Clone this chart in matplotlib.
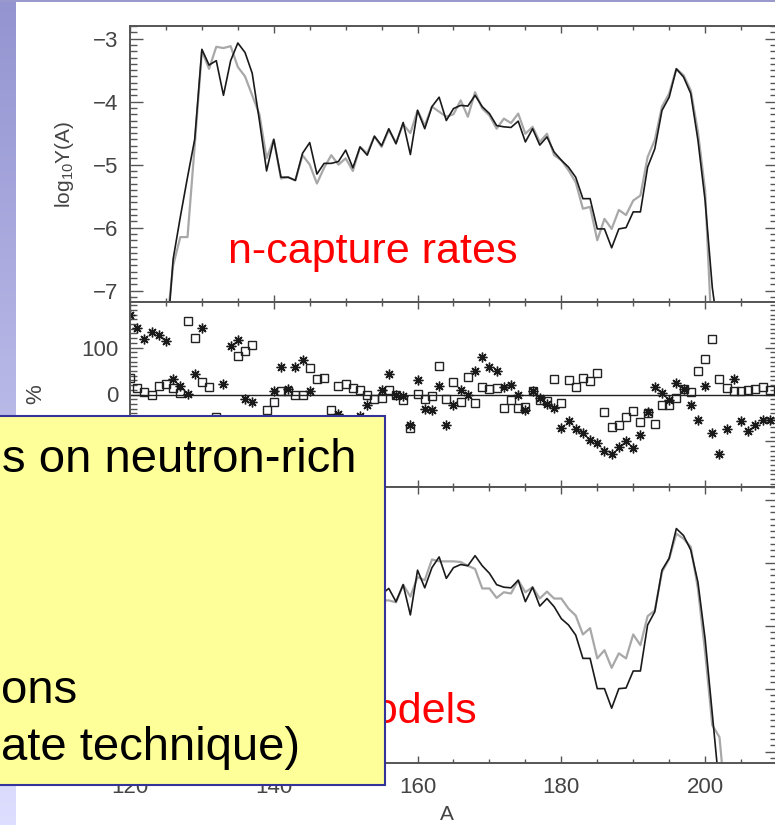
import numpy as np
import matplotlib.pyplot as plt
from matplotlib.patches import Rectangle
from matplotlib.ticker import MultipleLocator

plt.rcParams['font.family'] = ['Liberation Sans', 'DejaVu Sans']
plt.rcParams['mathtext.fontset'] = 'custom'
plt.rcParams['mathtext.rm'] = 'Liberation Sans'
plt.rcParams['mathtext.it'] = 'Liberation Sans:italic'

nan = np.nan

# ---- data: log10 Y(A), top panel (n-capture rates), A = 124 ... 203
top_start = 124
top_black = [-8.5, -8.0, -6.5, -5.83, -5.2, -4.6, -3.17, -3.42, -3.35, -3.9,
             -3.35, -3.07, -3.22, -3.55, -4.3, -5.1, -4.6, -5.2, -5.2, -5.25,
             -4.82, -4.65, -5.15, -4.98, -4.98, -4.95, -4.77, -5.05, -4.72, -4.85,
             -4.55, -4.70, -4.43, -4.67, -4.33, -4.84, -4.14, -4.43, -4.08, -3.93,
             -4.3, -4.11, -4.06, -4.07, -3.9, -4.08, -4.19, -4.38, -4.4, -4.41,
             -4.31, -4.64, -4.43, -4.69, -4.56, -4.8, -4.93, -5.04, -5.2, -5.54,
             -5.54, -6.02, -6.02, -6.32, -6.02, -6.0, -5.75, -5.75, -5.04, -4.75,
             -4.14, -3.93, -3.48, -3.61, -3.87, -4.61, -5.57, -6.95, -7.8, -8.5]
top_gray = [-8.5, -7.7, -6.6, -6.15, -6.15, -4.7, -3.2, -3.48, -3.13, -3.15,
            -3.12, -3.45, -3.6, -3.9, -4.2, -4.9, -4.6, -5.22, -5.2, -5.25,
            -4.85, -5.0, -5.3, -5.05, -4.85, -5.0, -4.9, -5.1, -4.72, -4.82,
            -4.55, -4.72, -4.45, -4.65, -4.36, -4.5, -4.14, -4.38, -4.08, -4.16,
            -4.24, -4.2, -3.98, -4.24, -3.85, -4.11, -4.22, -4.43, -4.27, -4.34,
            -4.19, -4.51, -4.4, -4.64, -4.51, -4.85, -4.93, -5.09, -5.28, -5.7,
            -5.67, -6.2, -5.86, -6.02, -5.72, -5.8, -5.57, -5.49, -4.88, -4.61,
            -4.08, -3.87, -3.48, -3.58, -3.82, -4.48, -5.41, -7.9, -8.5, -8.5]

# ---- bottom panel (mass models), visible part A = 155 ... 203
bot_start = 155
bot_black = [-4.5, -4.41, -4.62, -4.35, -4.83, -4.12, -4.4, -4.08, -3.91, -4.25,
             -4.08, -4.03, -4.05, -3.89, -4.05, -4.17, -4.35, -4.39, -4.4, -4.28,
             -4.62, -4.39, -4.69, -4.57, -4.7, -4.89, -4.99, -5.15, -5.52, -5.52,
             -6.0, -6.0, -6.31, -6.0, -5.99, -5.72, -5.72, -4.99, -4.78, -4.12,
             -3.93, -3.46, -3.57, -3.8, -4.31, -5.21, -6.4, -7.6, -8.5]
bot_gray = [-4.6, -4.6, -4.63, -4.35, -4.54, -4.23, -4.28, -3.95, -3.98, -3.98,
            -3.98, -3.99, -4.05, -4.1, -4.41, -4.41, -4.56, -4.47, -4.49, -4.28,
            -4.47, -4.39, -4.57, -4.46, -4.57, -4.57, -4.73, -4.84, -5.14, -5.04,
            -5.52, -5.39, -5.67, -5.44, -5.52, -5.14, -5.31, -4.85, -4.76, -4.15,
            -3.94, -3.54, -3.62, -3.75, -4.41, -5.42, -6.58, -6.77, -8.0]

# ---- middle panel: % differences, A = 120 ... 209
mid_start = 120
mid_squares = [35, 14, 5, -2, 19, 22, 13, 3, 156, 121,
               26, 16, -48, nan, nan, 83, 92, 106, nan, -33,
               -17, 8, 8, -2, -2, 56, 33, 36, -33, 19,
               23, 13, 9, 0, -10, -7, 9, -2, -12, -71,
               1, -10, -4, 60, -10, 26, -15, 38, -18, 17,
               11, 14, -29, -11, -29, -27, 7, -12, -14, 32,
               -18, 30, 17, 35, 28, 46, -38, -69, -66, -47,
               -35, -59, -39, -62, -22, -22, -7, 12, 5, 49,
               75, 118, 33, 14, 7, 7, 9, 12, 16, 9]
mid_stars = [170, 142, 118, 133, 126, 113, 33, 18, 2, 43,
             142, nan, nan, 22, 103, 117, -10, -15, nan, nan,
             8, 58, 11, 59, 74, 8, nan, nan, nan, -42,
             nan, nan, -45, -23, nan, 10, 44, -1, -3, -64,
             30, -31, -32, 19, -64, -23, 9, 0, 50, 79,
             58, 51, 17, 21, -2, -32, 7, -7, -21, -28,
             -71, -57, -74, -83, -97, -103, -120, -127, -111, -99,
             -115, -87, -38, 15, 3, -11, 24, 12, -22, -55,
             19, -82, -126, -73, 32, -57, -78, -66, -55, -55]

W, H = 775, 825
fig = plt.figure(figsize=(W / 100, H / 100), dpi=100)


def fx(px):
    return px / W


def fy(py):
    return 1 - py / H


# slide background stripes
c0 = np.array([0.58, 0.58, 0.82])
c1 = np.array([0.87, 0.87, 1.0])
grad = np.linspace(0, 1, 256)[:, None, None]
bg = fig.add_axes([0, 0, fx(16), 1])
bg.imshow(c0 + grad * (c1 - c0), aspect='auto', extent=[0, 1, 0, 1])
bg.axis('off')
fig.add_artist(Rectangle((0, fy(2)), 1, 2 / H, transform=fig.transFigure,
                         fc='#9999CC', ec='none'))

left, right = 130, 777
ax_top = fig.add_axes([fx(left), fy(302), fx(right - left), (302 - 26) / H])
ax_mid = fig.add_axes([fx(left), fy(487), fx(right - left), (487 - 302) / H])
ax_bot = fig.add_axes([fx(left), fy(763), fx(right - left), (763 - 487) / H])

A_top = np.arange(top_start, top_start + len(top_black))
A_bot = np.arange(bot_start, bot_start + len(bot_black))
A_mid = np.arange(mid_start, mid_start + len(mid_squares))

ax_top.plot(A_top, top_gray, color='#A8A8A8', lw=1.6)
ax_top.plot(A_top, top_black, color='#1a1a1a', lw=1.2)
ax_bot.plot(A_bot, bot_gray, color='#A8A8A8', lw=1.6)
ax_bot.plot(A_bot, bot_black, color='#1a1a1a', lw=1.2)

ax_mid.axhline(0, color='#222222', lw=1.0)
ax_mid.plot(A_mid, mid_squares, ls='none', marker='s', ms=5.5, mfc='none',
            mec='#222222', mew=1.0)
ax_mid.plot(A_mid, mid_stars, ls='none', marker=(8, 2, 0), ms=7,
            color='#1a1a1a', mew=1.0)

tick_col = '#555555'
for ax in (ax_top, ax_mid, ax_bot):
    ax.set_xlim(120, 210)
    ax.xaxis.set_major_locator(MultipleLocator(20))
    ax.xaxis.set_minor_locator(MultipleLocator(5))
    ax.tick_params(which='both', direction='in', top=True, right=True,
                   color=tick_col, width=1.0, labelsize=16, labelcolor='#444444')
    ax.tick_params(axis='x', which='major', length=5, pad=10)
    ax.tick_params(axis='x', which='minor', length=3)
    ax.tick_params(axis='y', which='major', length=9, pad=8.5)
    ax.tick_params(axis='y', which='minor', length=5)
    for s in ax.spines.values():
        s.set_color(tick_col)
        s.set_linewidth(1.4)

for ax in (ax_top, ax_bot):
    ax.set_ylim(-7.18, -2.8)
    ax.set_yticks([-7, -6, -5, -4, -3])
    ax.yaxis.set_minor_locator(MultipleLocator(0.1))

ax_mid.set_ylim(-197, 197)
ax_mid.set_yticks([-100, 0, 100])
ax_mid.set_yticklabels(['', '0', '100'])
ax_mid.yaxis.set_minor_locator(MultipleLocator(10))

ax_top.tick_params(labelbottom=False)
ax_mid.tick_params(labelbottom=False)
ax_bot.tick_params(labelleft=False)  # hidden under the note box anyway

ax_top.set_ylabel('log$_{10}$Y(A)', fontsize=15, color='#444444')
ax_top.yaxis.set_label_coords(-0.083, 0.5)
ax_mid.set_ylabel('%', fontsize=16, color='#444444')
ax_mid.yaxis.set_label_coords(-0.13, 0.5)
ax_bot.set_xlabel('A', fontsize=15, color='#444444')
ax_bot.xaxis.set_label_coords(0.49, -0.152)

fig.text(fx(228), fy(263), 'n-capture rates', fontsize=31, color='red',
         ha='left', va='baseline')
fig.text(fx(477), fy(723), 'models', fontsize=31, color='red',
         ha='right', va='baseline', zorder=5)

# yellow note box laid over the chart
fig.add_artist(Rectangle((fx(-10), fy(785)), fx(395), (785 - 416) / H,
                         transform=fig.transFigure, fc='#FFFF99',
                         ec='#333399', lw=1.5, zorder=10))
fig.text(fx(2), fy(472), 's on neutron-rich', fontsize=34, color='black',
         ha='left', va='baseline', zorder=11)
fig.text(fx(1), fy(703), 'ons', fontsize=34, color='black',
         ha='left', va='baseline', zorder=11)
fig.text(fx(1), fy(760), 'ate technique)', fontsize=34, color='black',
         ha='left', va='baseline', zorder=11)

fig.savefig('out.png', dpi=100)
